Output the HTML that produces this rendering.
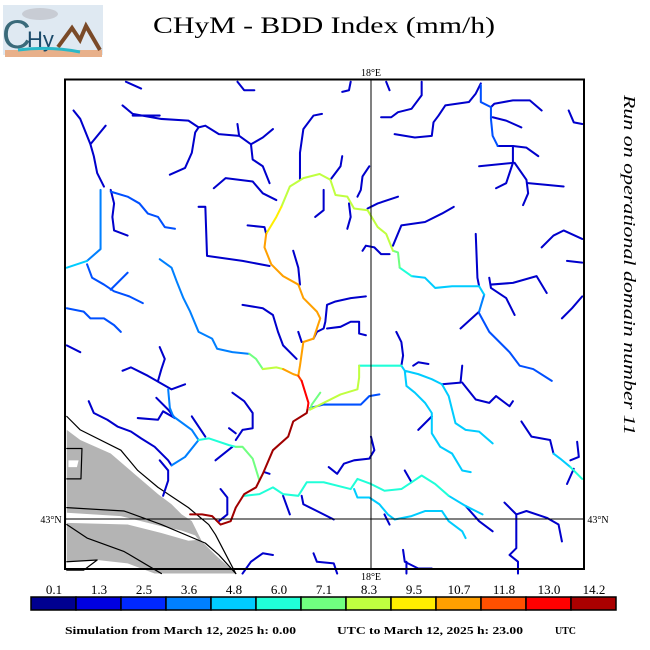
<!DOCTYPE html>
<html><head><meta charset="utf-8"><style>html,body{margin:0;padding:0;background:#fff}svg{display:block}</style></head><body>
<svg width="650" height="650" xmlns="http://www.w3.org/2000/svg" font-family="Liberation Serif, serif">
<rect width="650" height="650" fill="#fff"/>
<!-- logo -->
<rect x="3" y="5" width="100" height="50" fill="#dfe9f2"/>
<rect x="5" y="50" width="97" height="7" fill="#e8b08a"/>
<ellipse cx="40" cy="14" rx="18" ry="6" fill="#c8ccd4"/>
<text x="2" y="48" font-size="40" fill="#3a6a7a" font-family="Liberation Sans, sans-serif">C</text>
<text x="27" y="47" font-size="22" fill="#1a4a6a" font-family="Liberation Sans, sans-serif">Hy</text>
<path d="M58 47 L72 28 L80 40 L86 26 L100 50" fill="none" stroke="#7a4a28" stroke-width="4"/>
<path d="M18 50 Q50 46 80 52" stroke="#2ab8c8" stroke-width="3" fill="none"/>
<text x="153" y="33" font-size="23" textLength="342" lengthAdjust="spacingAndGlyphs">CHyM - BDD Index (mm/h)</text>
<text transform="translate(624,95) rotate(90)" font-size="17" font-style="italic" textLength="340" lengthAdjust="spacingAndGlyphs">Run on operational domain number 11</text>

<g transform="translate(60,75) scale(0.338)" fill="none" stroke-linejoin="round" stroke-linecap="round">
<g fill="#b4b4b4" stroke="none">
<path d="M20 1050 L60 1080 L150 1120 L220 1180 L290 1240 L330 1270 L360 1300 L390 1320 L420 1380 L460 1420 L520 1475 L20 1475Z"/>
</g>
<g fill="#fff" stroke="none">
<path d="M20 1295 L180 1305 L300 1335 L360 1348 L400 1362 L410 1375 L380 1378 L300 1355 L200 1330 L20 1325Z"/>
<path d="M20 1440 L110 1435 L200 1445 L280 1475 L20 1475Z"/>
<path d="M25 1140 L55 1140 L50 1160 L25 1160Z"/>
</g>
<g stroke="#000" stroke-width="1.2">
<path vector-effect="non-scaling-stroke" d="M20 1010 L60 1050 L180 1110 L230 1170 L290 1220 L380 1280 L440 1330 L460 1360 L520 1475"/>
<path vector-effect="non-scaling-stroke" d="M20 1280 L190 1290 L300 1330 L430 1385 L470 1420 L520 1475"/>
<path vector-effect="non-scaling-stroke" d="M20 1330 L80 1370 L190 1410 L300 1475"/>
<path vector-effect="non-scaling-stroke" d="M20 1440 L110 1435 L70 1465 L20 1465"/>
<path vector-effect="non-scaling-stroke" d="M20 1105 L65 1105 L62 1195 L20 1195"/>
</g>
<g stroke="#0000cc" stroke-width="6">
<path d="M40 105 L60 130 L90 205 L100 240 L110 290 L130 330 M90 205 L135 150"/>
<path d="M185 90 L215 115 L300 130 L380 135 L410 155 L430 150 L470 175 L530 180 L565 205 L570 250 L600 270 L620 320 M530 180 L525 145 M565 205 L600 185 L630 160 M410 155 L400 170 L390 230 L370 275 L325 295 M215 120 L295 120"/>
<path d="M150 340 L160 380 L155 420 L160 460 L200 475"/>
<path d="M410 390 L430 390 L435 535 L540 550 L620 565"/>
<path d="M455 335 L490 305 L570 315 L600 350 L640 370"/>
<path d="M555 445 L605 450 L610 470"/>
<path d="M710 310 L710 260 L710 230 L720 160 L750 120 L775 115"/>
<path d="M835 240 L830 270 L800 310 M780 340 L780 400 L755 420 M915 270 L895 300 L890 340 L880 360 M855 380 L860 420 L850 455"/>
<path d="M195 20 L240 40 M525 20 L545 45 L575 45 M860 20 L855 45 L835 50 M965 20 L975 45"/>
<path d="M1070 20 L1070 60 L1040 100 L1000 110 L980 125 L950 125"/>
<path d="M1245 25 L1230 55 L1210 80 L1140 90 L1120 120 L1105 140 L1100 180 L1050 185 L990 175"/>
<path d="M1275 95 L1285 85 L1340 75 L1390 75 L1425 105 M1280 125 L1320 135 L1365 155 M1295 210 L1340 210 L1380 215 L1415 240"/>
<path d="M1340 210 L1340 260 L1320 320 L1290 335 M1340 260 L1240 270 M1345 260 L1380 310 L1385 350 L1370 385 M1385 320 L1440 325 L1490 330"/>
<path d="M1505 105 L1520 140 L1545 145 M910 395 L940 380 L1000 360 M985 505 L1010 445 L1080 435 L1130 410 L1165 390 M895 520 L905 505 L930 510 L950 530 L975 530"/>
<path d="M1240 700 L1185 750 M1230 470 L1235 600 L1240 625 M1270 600 L1275 630 L1320 660 L1345 710 M1275 620 L1340 615 L1410 595 L1440 645"/>
<path d="M1425 510 L1460 475 L1490 460 L1545 485 M1500 550 L1545 555 M1545 655 L1515 690 L1485 720"/>
<path d="M690 520 L705 570 L710 620 M540 680 L600 690 L630 710 L645 760 L660 800 L700 840 M705 760 L715 790"/>
<path d="M905 655 L860 660 L815 670 L790 680 L785 730 L780 750 L760 760 L750 780 M790 750 L830 745 L860 730 L885 730 L885 765 L905 770"/>
<path d="M185 875 L210 865 L240 880 L260 890 L295 910 L330 930 L370 915 M295 805 L310 840 L300 870 L290 905"/>
<path d="M85 965 L100 1000 L140 1020 L170 1040 L210 1055 L240 1075 L280 1100 L320 1140 L330 1155 M230 1015 L290 1020 L305 995 L340 1015 M285 955 L320 990 L340 1015"/>
<path d="M510 940 L545 965 L570 1000 L570 1045 L540 1050 L520 1080 M500 1045 L520 1060 M460 1140 L510 1100 M390 1010 L410 1040 L430 1070 M295 1140 L320 1170 L320 1200 L305 1245"/>
<path d="M1130 915 L1185 910 L1190 860 M1190 910 L1230 960 L1270 970 L1290 950 L1330 980 L1340 965 M1100 1010 L1060 1050 M1045 860 L1060 850 L1090 855 M995 760 L1010 790 L1015 830 L1010 860"/>
<path d="M1365 1025 L1395 1070 L1450 1080 L1460 1120 M1530 1085 L1535 1130 L1510 1140 M1520 1165 L1500 1210"/>
<path d="M920 1070 L930 1110 L915 1135 L870 1140 L840 1150 L820 1180 L795 1160 M1040 1205 L1020 1170"/>
<path d="M660 1245 L680 1300 M715 1245 L720 1270 L760 1290 L810 1315 M475 1225 L495 1250 L495 1300 L470 1320 M960 1300 L975 1330 M620 1180 L605 1175"/>
<path d="M540 1475 L565 1440 L600 1415 L630 1420 M750 1415 L760 1440 L810 1445 L820 1475 M1015 1405 L1020 1440 L1040 1450 L1060 1460 L1100 1460 M1025 1440 L1025 1475 M1315 1265 L1350 1300 L1350 1400 L1330 1420 L1355 1440 L1355 1475 M1350 1300 L1380 1290 L1440 1310 L1475 1330 L1485 1380"/>
<path d="M20 800 L60 820 M1200 1275 L1240 1320 L1280 1350"/>
</g>
<g stroke="#0050ff" stroke-width="6">
<path d="M150 345 L200 360 L235 380 L260 410 L290 420 L310 450 L340 455"/>
<path d="M20 690 L70 700 L90 720 L130 720 L160 740 L180 760"/>
<path d="M1245 30 L1245 80 L1275 95 L1275 130 L1280 180 L1295 210"/>
<path d="M1240 705 L1270 760 L1330 820 L1360 860 L1400 870 L1455 905"/>
<path d="M740 985 L780 975 L890 975 L915 950 L945 945"/>
<path d="M80 560 L95 600 L130 620 L160 640 L205 655 L245 675 M150 635 L200 585"/>
</g>
<g stroke="#0080ff" stroke-width="6">
<path d="M120 340 L120 515 L80 550"/>
<path d="M295 545 L330 570 L345 610 L365 660 L385 700 L410 760 L450 780 L465 810 L510 820 L560 825"/>
<path d="M330 1155 L370 1130 L410 1080 M320 930 L325 985 L335 1010 L390 1050 L410 1080"/>
<path d="M1255 650 L1240 700"/>
</g>
<g stroke="#00ccff" stroke-width="6">
<path d="M80 550 L20 570"/>
<path d="M1010 860 L1020 875 L1060 885 L1100 900 L1130 915 L1150 950 L1170 1030 L1200 1050 L1240 1055 L1280 1090 M1020 875 L1025 920 L1050 940 L1080 970 L1100 1000 L1100 1060 L1125 1100 L1160 1120 L1190 1170 L1215 1175"/>
<path d="M870 1225 L880 1250 L915 1250 L945 1270 L970 1300 L990 1315 L1040 1305 L1080 1290 L1130 1290 L1150 1320 L1190 1350 L1200 1370"/>
<path d="M1150 1245 L1200 1275 L1250 1300 M1460 1120 L1480 1135 L1510 1160"/>
<path d="M1040 595 L1080 600 L1110 630 L1160 625 L1240 625 L1255 650"/>
</g>
<g stroke="#20ffd8" stroke-width="6">
<path d="M545 1245 L590 1240 L630 1220 L660 1240 L705 1245 L730 1205 L780 1205 L860 1225 L880 1195 L920 1210 L960 1230 L1010 1225 L1040 1205 L1070 1185 L1110 1210 L1150 1245"/>
<path d="M885 860 L1010 860 M410 1080 L440 1075 L500 1095 L520 1100 M1510 1160 L1545 1195 M1005 570 L1040 595"/>
</g>
<g stroke="#70ff80" stroke-width="6">
<path d="M520 1100 L540 1100 L570 1135 L590 1200 M560 825 L580 840 L600 870 M740 990 L745 975 L770 940 M985 520 L1000 525 L1005 570"/>
</g>
<g stroke="#c0ff40" stroke-width="6">
<path d="M740 990 L790 965 L830 945 L880 930 L885 895 L885 860 M600 870 L640 865 L660 870"/>
<path d="M768 293 L800 310 L815 355 L850 360 L870 395 L910 400 L940 450 L965 470 L985 520"/>
<path d="M768 293 L720 305 L680 330 L655 390"/>
</g>
<g stroke="#ffee00" stroke-width="6"><path d="M655 390 L640 420 L610 470"/></g>
<g stroke="#ffa000" stroke-width="6">
<path d="M610 470 L605 510 L625 560 L660 595 L705 620 L720 660 L760 700 L770 720 L750 780 L720 790 L710 860 L705 890 M660 870 L690 885 L705 890"/>
</g>
<g stroke="#ff4000" stroke-width="6"><path d="M705 890 L715 905"/></g>
<g stroke="#ff0000" stroke-width="6"><path d="M715 905 L735 970 L732 990"/></g>
<g stroke="#a00000" stroke-width="6">
<path d="M732 990 L730 1000 L690 1025 L675 1070 L630 1110 L600 1180 L580 1220 L545 1240 L520 1280 L505 1320 L475 1330 L450 1305 L420 1300 L385 1300"/>
</g>
</g>
<!-- frame & grid -->
<rect x="65" y="79.5" width="519" height="489.5" fill="none" stroke="#000" stroke-width="2"/>
<line x1="371" y1="79" x2="371" y2="569" stroke="#000" stroke-width="1"/>
<line x1="65" y1="519" x2="584" y2="519" stroke="#000" stroke-width="1"/>
<g font-size="10" text-anchor="middle">
<text x="371" y="76">18°E</text>
<text x="371" y="580">18°E</text>
<text x="51" y="523">43°N</text>
<text x="598" y="523">43°N</text>
</g>
<!-- colorbar -->
<g stroke="#000" stroke-width="1.5">
<rect x="31" y="597" width="45" height="13" fill="#000090"/>
<rect x="76" y="597" width="45" height="13" fill="#0000e0"/>
<rect x="121" y="597" width="45" height="13" fill="#0028ff"/>
<rect x="166" y="597" width="45" height="13" fill="#0080ff"/>
<rect x="211" y="597" width="45" height="13" fill="#00ccff"/>
<rect x="256" y="597" width="45" height="13" fill="#20ffd8"/>
<rect x="301" y="597" width="45" height="13" fill="#70ff80"/>
<rect x="346" y="597" width="45" height="13" fill="#c0ff40"/>
<rect x="391" y="597" width="45" height="13" fill="#ffee00"/>
<rect x="436" y="597" width="45" height="13" fill="#ffa000"/>
<rect x="481" y="597" width="45" height="13" fill="#ff5000"/>
<rect x="526" y="597" width="45" height="13" fill="#ff0000"/>
<rect x="571" y="597" width="45" height="13" fill="#aa0000"/>
</g>
<g font-size="13" text-anchor="middle">
<text x="54" y="594">0.1</text><text x="99" y="594">1.3</text><text x="144" y="594">2.5</text>
<text x="189" y="594">3.6</text><text x="234" y="594">4.8</text><text x="279" y="594">6.0</text>
<text x="324" y="594">7.1</text><text x="369" y="594">8.3</text><text x="414" y="594">9.5</text>
<text x="459" y="594">10.7</text><text x="504" y="594">11.8</text><text x="549" y="594">13.0</text>
<text x="594" y="594">14.2</text>
</g>
<g font-size="11" font-weight="bold">
<text x="65" y="634" textLength="231" lengthAdjust="spacingAndGlyphs">Simulation from March 12, 2025 h: 0.00</text>
<text x="337" y="634" textLength="186" lengthAdjust="spacingAndGlyphs">UTC to March 12, 2025 h: 23.00</text>
<text x="555" y="634" textLength="21" lengthAdjust="spacingAndGlyphs">UTC</text>
</g>
</svg>
</body></html>
